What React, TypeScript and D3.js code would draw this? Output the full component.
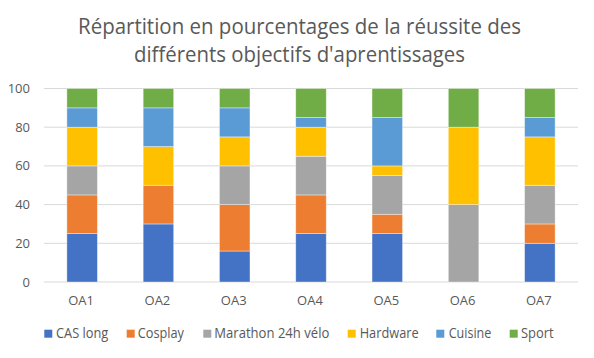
import React from "react";
import * as d3 from "d3";

const categories = ["OA1", "OA2", "OA3", "OA4", "OA5", "OA6", "OA7"];
const seriesNames = ["CAS long", "Cosplay", "Marathon 24h vélo", "Hardware", "Cuisine", "Sport"];
const casLong = [25, 30, 16, 25, 25, 0, 20];
const cosplay = [20, 20, 24, 20, 10, 0, 10];
const marathon = [15, 0, 20, 20, 20, 40, 20];
const hardware = [20, 20, 15, 15, 5, 40, 25];
const cuisine = [10, 20, 15, 5, 25, 0, 10];
const sport = [10, 10, 10, 15, 15, 20, 15];
const yTicks = [0, 20, 40, 60, 80, 100];
const colors = ["#4472C4", "#ED7D31", "#A5A5A5", "#FFC000", "#5B9BD5", "#70AD47"];
const titleLines = [
  "Répartition en pourcentages de la réussite des",
  "différents objectifs d'aprentissages",
];

const W = 594;
const H = 358;
const plot = { left: 44, right: 578, top: 88.5, bottom: 282 };
const FONT = "'Open Sans', 'Liberation Sans', sans-serif";
const TEXT = "#595959";

export default function App() {
  const values = [casLong, cosplay, marathon, hardware, cuisine, sport];
  const table = categories.map((c, i) => {
    const row: any = { cat: c };
    seriesNames.forEach((s, k) => (row[s] = values[k][i]));
    return row;
  });
  const stacked = d3.stack<any>().keys(seriesNames)(table);

  const x = d3
    .scaleBand<string>()
    .domain(categories)
    .range([plot.left, plot.right])
    .paddingInner(0.6)
    .paddingOuter(0.3);
  const y = d3.scaleLinear().domain([0, 100]).range([plot.bottom, plot.top]);

  const legendItems = [
    { x: 44.3, tx: 56, w: 52.3 },
    { x: 126.7, tx: 137.7, w: 46.3 },
    { x: 203.3, tx: 214.3, w: 115 },
    { x: 347.7, tx: 359.7, w: 59 },
    { x: 436.3, tx: 448.7, w: 42.6 },
    { x: 509.7, tx: 521, w: 32.7 },
  ];
  const titleWidths = [443, 331];

  return (
    <svg
      width={W}
      height={H}
      style={{ position: "absolute", left: 0, top: 0, background: "#fff" }}
      fontFamily={FONT}
    >
      <rect x={0} y={0} width={W} height={H} fill="#fff" />
      {titleLines.map((t, i) => (
        <text
          key={i}
          x={299.5}
          y={33.5 + i * 28.3}
          textAnchor="middle"
          fontSize={21}
          fill={TEXT}
          textLength={titleWidths[i]}
          lengthAdjust="spacingAndGlyphs"
        >
          {t}
        </text>
      ))}
      {yTicks.map((t) => (
        <g key={t}>
          <line
            x1={plot.left}
            x2={plot.right}
            y1={y(t)}
            y2={y(t)}
            stroke="#D9D9D9"
            strokeWidth={1}
          />
          <text
            x={30}
            y={y(t) + 4.5}
            textAnchor="end"
            fontSize={13}
            fill={TEXT}
          >
            {t}
          </text>
        </g>
      ))}
      {stacked.map((layer, k) => (
        <g key={seriesNames[k]} fill={colors[k]}>
          {layer.map((d, i) => {
            const h = y(d[0]) - y(d[1]);
            if (h <= 0) return null;
            return (
              <rect
                key={i}
                x={x(categories[i])}
                y={y(d[1])}
                width={x.bandwidth()}
                height={h}
                stroke="#fff"
                strokeOpacity={0.5}
                strokeWidth={0.75}
              />
            );
          })}
        </g>
      ))}
      {categories.map((c) => (
        <text
          key={c}
          x={(x(c) as number) + x.bandwidth() / 2 - 1}
          y={305}
          textAnchor="middle"
          fontSize={13}
          fill={TEXT}
        >
          {c}
        </text>
      ))}
      {seriesNames.map((s, k) => (
        <g key={s}>
          <rect x={legendItems[k].x} y={329.7} width={8} height={8} fill={colors[k]} />
          <text
            x={legendItems[k].tx}
            y={338}
            fontSize={14}
            fill={TEXT}
            textLength={legendItems[k].w}
            lengthAdjust="spacingAndGlyphs"
          >
            {s}
          </text>
        </g>
      ))}
    </svg>
  );
}
